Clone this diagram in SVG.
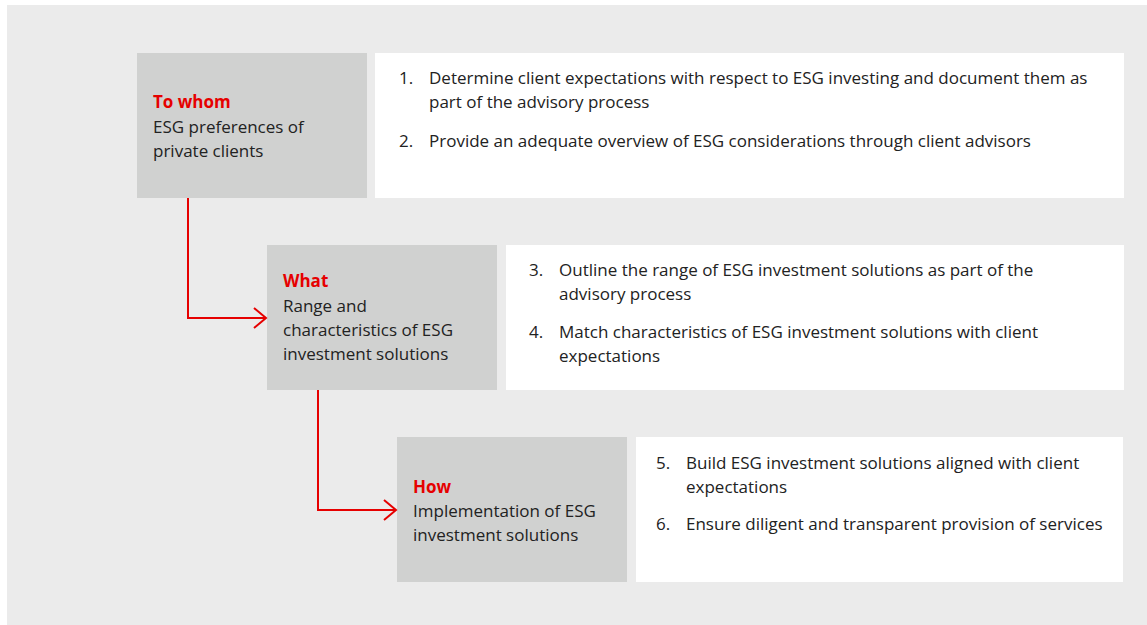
<svg xmlns="http://www.w3.org/2000/svg" width="1147" height="625" viewBox="0 0 1147 625">
<defs>
<style>
.bg{fill:#EBEBEB}
.head{fill:#D0D1D0}
.card{fill:#FFFFFF}
.t{font-family:"Open Sans","Liberation Sans",sans-serif;fill:#222222}
.b{font-size:17px}
.r{font-weight:bold;fill:#E60000}
.l{font-size:17px}
.conn{fill:none;stroke:#E60000;stroke-width:2}
</style>
<marker id="chev" markerWidth="16" markerHeight="24" refX="13" refY="11" orient="auto" markerUnits="userSpaceOnUse">
<path d="M1,1 L13,11 L1,21" fill="none" stroke="#E60000" stroke-width="2"/>
</marker>
</defs>
<rect class="bg" x="7" y="5" width="1140" height="620"/>
<g id="node-to-whom">
<rect class="head" x="137" y="53" width="230" height="145"/>
<text class="t b" x="153"><tspan class="r" y="108">To whom</tspan><tspan x="153" y="133">ESG preferences of</tspan><tspan x="153" y="157">private clients</tspan></text>
</g>
<g id="node-list-1">
<rect class="card" x="375" y="53" width="749" height="145"/>
<text class="t l"><tspan x="399" y="84">1.</tspan><tspan x="429" y="84">Determine client expectations with respect to ESG investing and document them as</tspan><tspan x="429" y="108">part of the advisory process</tspan><tspan x="399" y="147">2.</tspan><tspan x="429" y="147">Provide an adequate overview of ESG considerations through client advisors</tspan></text>
</g>
<g id="node-what">
<rect class="head" x="267" y="245" width="230" height="145"/>
<text class="t b" x="283"><tspan class="r" y="287">What</tspan><tspan x="283" y="312">Range and</tspan><tspan x="283" y="336">characteristics of ESG</tspan><tspan x="283" y="360">investment solutions</tspan></text>
</g>
<g id="node-list-2">
<rect class="card" x="506" y="245" width="618" height="145"/>
<text class="t l"><tspan x="529" y="276">3.</tspan><tspan x="559" y="276">Outline the range of ESG investment solutions as part of the</tspan><tspan x="559" y="300">advisory process</tspan><tspan x="529" y="338">4.</tspan><tspan x="559" y="338">Match characteristics of ESG investment solutions with client</tspan><tspan x="559" y="362">expectations</tspan></text>
</g>
<g id="node-how">
<rect class="head" x="397" y="437" width="230" height="145"/>
<text class="t b" x="413"><tspan class="r" y="493">How</tspan><tspan x="413" y="517">Implementation of ESG</tspan><tspan x="413" y="541">investment solutions</tspan></text>
</g>
<g id="node-list-3">
<rect class="card" x="636" y="437" width="487" height="145"/>
<text class="t l"><tspan x="656" y="469">5.</tspan><tspan x="686" y="469">Build ESG investment solutions aligned with client</tspan><tspan x="686" y="493">expectations</tspan><tspan x="656" y="530">6.</tspan><tspan x="686" y="530">Ensure diligent and transparent provision of services</tspan></text>
</g>
<g id="connectors">
<path class="conn" d="M188,198 V318 H266" marker-end="url(#chev)"/>
<path class="conn" d="M318,390 V510 H396" marker-end="url(#chev)"/>
</g>
</svg>
